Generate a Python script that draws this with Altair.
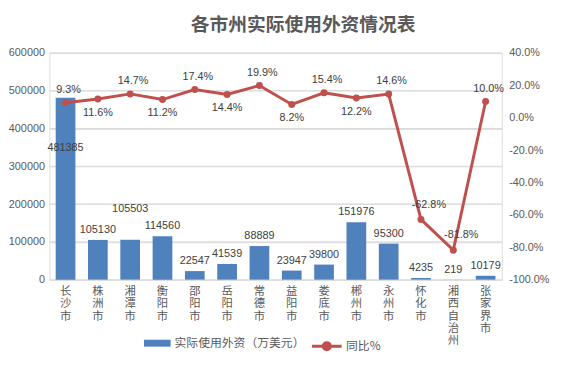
import altair as alt
import pandas as pd

cities = ["长沙市", "株洲市", "湘潭市", "衡阳市", "邵阳市", "岳阳市", "常德市",
          "益阳市", "娄底市", "郴州市", "永州市", "怀化市", "湘西自治州", "张家界市"]
amounts = [481385, 105130, 105503, 114560, 22547, 41539, 88889,
           23947, 39800, 151976, 95300, 4235, 219, 10179]
yoy_pct = [9.3, 11.6, 14.7, 11.2, 17.4, 14.4, 19.9,
           8.2, 15.4, 12.2, 14.6, -62.8, -81.8, 10.0]
# label placement (style) for the data labels
amount_label_side = ["inside", "above", "high", "above", "above", "above", "above",
                     "above", "above", "above", "above", "above", "above", "above"]
yoy_label_side = ["above", "below", "above", "below", "above", "below", "above",
                  "below", "above", "below", "above", "aboveR", "aboveR", "above"]

amt_ticks = [0, 100000, 200000, 300000, 400000, 500000, 600000]
yoy_ticks = [-1.0, -0.8, -0.6, -0.4, -0.2, 0.0, 0.2, 0.4]

BAR_NAME = "实际使用外资（万美元）"
LINE_NAME = "同比%"

df = pd.DataFrame({
    "city": cities,
    "amount": amounts,
    "yoy": [v / 100 for v in yoy_pct],
    "aside": amount_label_side,
    "yside": yoy_label_side,
})
grid_df = pd.DataFrame({"amount": amt_ticks[1:]})

NUM_FONT = "Liberation Sans"
CJK_FONT = "Noto Sans CJK SC"
BLUE = "#4F81BD"
RED = "#C0504D"
TXT = "#404040"
AX = "#595959"
GRID = "#D9D9D9"

x_scale = alt.Scale(paddingInner=0.39, paddingOuter=0.195)
x_axis = alt.Axis(labelAngle=0, labelExpr="split(datum.label, '')",
                  ticks=False, domainColor=GRID, labelFont=CJK_FONT,
                  labelFontSize=11.5, labelColor=AX, labelLineHeight=12.5,
                  labelPadding=6, labelBaseline="top", labelOverlap=False)


def X():
    return alt.X("city:N", sort=cities, title=None, scale=x_scale, axis=x_axis)


amt_scale = alt.Scale(domain=[0, 600000], nice=False, zero=True)
amt_axis = alt.Axis(values=amt_ticks, format="d", grid=True, gridColor=GRID,
                    domain=False, ticks=False, labelFont=NUM_FONT, labelFontSize=11,
                    labelColor=AX, labelPadding=5, labelOverlap=False)


def Y_amt():
    return alt.Y("amount:Q", title=None, scale=amt_scale, axis=amt_axis)


yoy_scale = alt.Scale(domain=[-1.0, 0.4], nice=False, zero=False)
yoy_axis = alt.Axis(orient="right", values=yoy_ticks,
                    labelExpr="replace(format(datum.value, '.1%'), '\u2212', '-')",
                    grid=False, domain=False, ticks=False, labelOverlap=False,
                    labelFont=NUM_FONT, labelFontSize=11, labelColor=AX, labelPadding=7)


def Y_yoy():
    return alt.Y("yoy:Q", title=None, scale=yoy_scale, axis=yoy_axis)


base = alt.Chart(df)

gridlines = alt.Chart(grid_df).mark_rule(color=GRID, strokeWidth=1).encode(y=Y_amt())

bars = base.transform_calculate(series=f"'{BAR_NAME}'").mark_bar().encode(
    x=X(),
    y=Y_amt(),
    fill=alt.Fill("series:N",
                  scale=alt.Scale(domain=[BAR_NAME], range=[BLUE]),
                  legend=alt.Legend(title=None, orient="none", legendX=96, legendY=281,
                                    symbolType="M-1,-0.26H1V0.26H-1Z", symbolSize=729,
                                    symbolStrokeWidth=0, labelFont=CJK_FONT,
                                    labelFontSize=12, labelColor=AX, labelOffset=4)),
)


def amt_text(side, **kw):
    return base.transform_filter(alt.datum.aside == side).mark_text(
        font=NUM_FONT, fontSize=11, color=TXT, **kw
    ).encode(x=X(), y=Y_amt(), text=alt.Text("amount:Q", format="d"))


amt_above = amt_text("above", baseline="bottom", dy=-5)
amt_inside = amt_text("inside", baseline="middle", dy=51)
amt_high = amt_text("high", baseline="middle", dy=-31)

bar_group = alt.layer(gridlines, bars, amt_above, amt_inside, amt_high)

line = base.transform_calculate(series2=f"'{LINE_NAME}'").mark_line(strokeWidth=3).encode(
    x=X(),
    y=Y_yoy(),
    stroke=alt.Stroke("series2:N",
                      scale=alt.Scale(domain=[LINE_NAME], range=[RED]),
                      legend=alt.Legend(title=None, orient="none", legendX=265, legendY=281,
                                        symbolType="M-1,0H1M0.24,0A0.24,0.24 0 1,1 -0.24,0A0.24,0.24 0 1,1 0.24,0Z",
                                        symbolSize=900, symbolStrokeWidth=3,
                                        symbolFillColor=RED, labelFont=CJK_FONT,
                                        labelFontSize=12, labelColor=AX, labelOffset=3)),
)

points = base.mark_circle(size=50, color=RED, opacity=1).encode(x=X(), y=Y_yoy())


def yoy_text(side, **kw):
    return base.transform_filter(alt.datum.yside == side).transform_calculate(
        ylab="replace(format(datum.yoy, '.1%'), '\u2212', '-')"
    ).mark_text(
        font=NUM_FONT, fontSize=11, color=TXT, baseline="middle", **kw
    ).encode(x=X(), y=Y_yoy(), text="ylab:N")


yoy_above = yoy_text("above", dy=-13, dx=3)
yoy_above_r = yoy_text("aboveR", dy=-15, dx=8)
yoy_below = yoy_text("below", dy=14)

line_group = alt.layer(line, points, yoy_above, yoy_above_r, yoy_below)

chart = alt.layer(bar_group, line_group).resolve_scale(
    y="independent", fill="independent", stroke="independent"
).properties(
    width=459, height=230,
    title=alt.Title("各市州实际使用外资情况表", font=CJK_FONT, fontSize=19,
                    fontWeight="bold", color=AX, anchor="middle", offset=12, dx=28),
    padding={"left": 0, "top": 6, "right": 5, "bottom": 5},
).configure_view(stroke=None).configure(background="white")

chart.save("out.html", embed_options={"renderer": "svg", "actions": False})
